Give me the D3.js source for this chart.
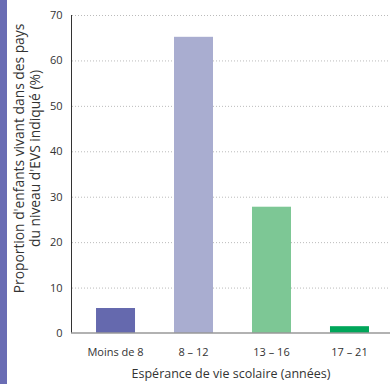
<!DOCTYPE html>
<html><head><meta charset="utf-8">
<script src="https://cdn.jsdelivr.net/npm/d3@7"></script>
<style>body{margin:0;background:#fff}svg{display:block}text{font-family:"Open Sans",sans-serif;fill:#333}</style>
</head><body>
<script>
const categories = ["Moins de 8", "8 – 12", "13 – 16", "17 – 21"];
const values = [5.5, 65.2, 27.8, 1.5];
const colors = ["#6569ae", "#a9add0", "#7dc795", "#00a65a"];
const yTicks = [0, 10, 20, 30, 40, 50, 60, 70];
const yTitle = ["Proportion d'enfants vivant dans des pays", "du niveau d'EVS indiqué (%)"];
const xTitle = "Espérance de vie scolaire (années)";

const W = 390, H = 384;
const svg = d3.select("body").append("svg").attr("width", W).attr("height", H);
svg.append("rect").attr("x",0).attr("y",0).attr("width",7).attr("height",H).attr("fill","#6a6db4");

const y = d3.scaleLinear().domain([0,70]).range([333,15]);
const x = d3.scaleBand().domain(categories).range([72,393]).paddingInner(0.5).paddingOuter(0.308);

// gridlines
svg.append("g").selectAll("line").data(yTicks.filter(d=>d>0)).join("line")
  .attr("x1",72).attr("x2",388).attr("y1",d=>y(d)+0.5).attr("y2",d=>y(d)+0.5)
  .attr("stroke","#bbb").attr("stroke-width",1).attr("stroke-dasharray","1,2");

// y axis
const ya = svg.append("g").attr("transform","translate(71.5,0)")
  .call(d3.axisLeft(y).tickValues(yTicks).tickSize(0).tickPadding(9));
ya.select(".domain").attr("stroke","#333").attr("d", `M0,${y(70)}V${y(0)}`);
ya.selectAll("text").style("font-size","11px").attr("fill","#333");

// bars
svg.append("g").selectAll("rect").data(values).join("rect")
  .attr("x",(d,i)=>x(categories[i])).attr("width",x.bandwidth())
  .attr("y",d=>y(d)).attr("height",d=>y(0)-y(d))
  .attr("fill",(d,i)=>colors[i]);

// x axis
const xa = svg.append("g").attr("transform","translate(0,333)")
  .call(d3.axisBottom(x).tickSize(0).tickPadding(15));
xa.select(".domain").attr("stroke","#999").attr("stroke-width",1.6).attr("d","M71,0H390");
xa.selectAll("text").style("font-size","11px").attr("fill","#333");

// titles
svg.append("text").attr("x",231).attr("y",378).attr("text-anchor","middle")
  .style("font-size","12.5px").text(xTitle);
const yt = svg.append("text").attr("transform","translate(0,158.5) rotate(-90)").attr("text-anchor","middle").style("font-size","13.8px");
yt.append("tspan").attr("x",0).attr("y",23.5).text(yTitle[0]);
yt.append("tspan").attr("x",0).attr("y",40).text(yTitle[1]);
</script>
</body></html>
